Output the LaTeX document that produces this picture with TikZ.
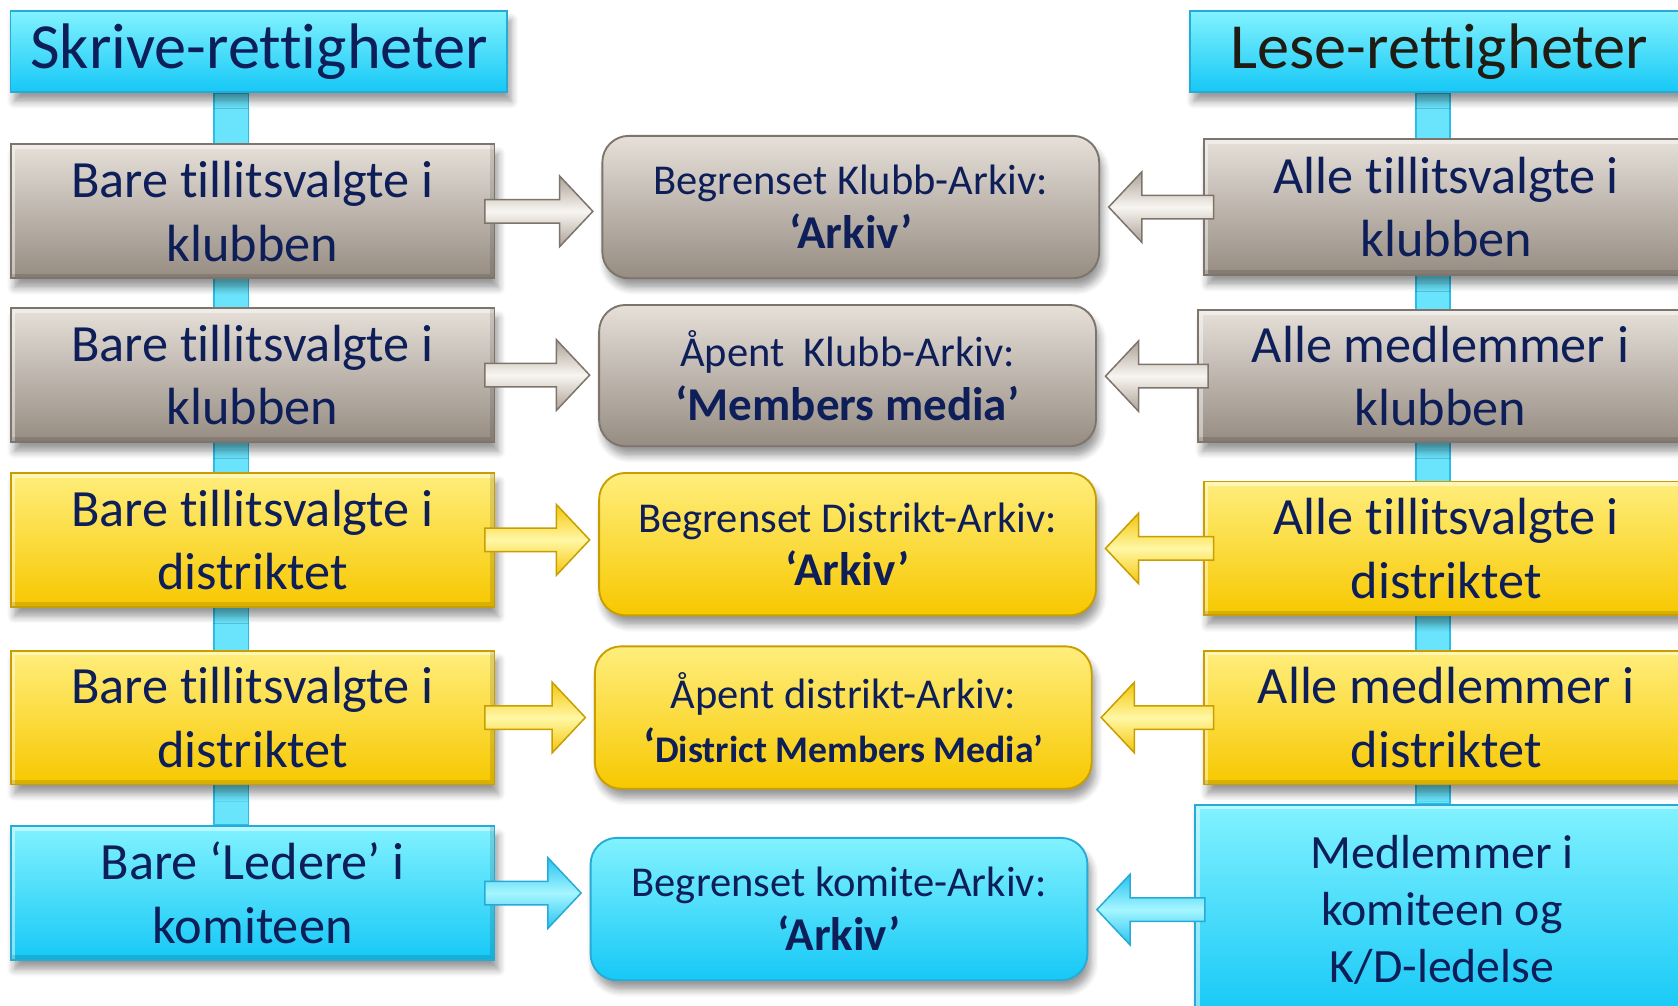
\documentclass[tikz,border=0pt]{standalone}
\usepackage{fontspec}
\setmainfont{Carlito}[Ligatures=NoCommon]
\usetikzlibrary{calc,backgrounds,shadows.blur}

\definecolor{navy}{RGB}{14,30,88}
\definecolor{inkdark}{RGB}{32,28,20}
\definecolor{graytop}{RGB}{230,224,217}
\definecolor{graybot}{RGB}{150,140,130}
\definecolor{grayedge}{RGB}{125,116,108}
\definecolor{graylight}{RGB}{248,245,240}
\definecolor{grayarr}{RGB}{172,162,152}
\definecolor{yeltop}{RGB}{255,238,125}
\definecolor{yelbot}{RGB}{247,200,0}
\definecolor{yeledge}{RGB}{200,158,0}
\definecolor{yellight}{RGB}{255,247,165}
\definecolor{yelarr}{RGB}{244,198,10}
\definecolor{cyantop}{RGB}{130,242,255}
\definecolor{cyanbot}{RGB}{22,200,246}
\definecolor{cyanedge}{RGB}{40,170,215}
\definecolor{cyanlight}{RGB}{165,246,255}
\definecolor{cyanarr}{RGB}{40,195,240}
\definecolor{barfill}{RGB}{105,228,252}
\definecolor{baredge}{RGB}{40,190,230}

\newcommand\boldline[1]{{\fontsize{12.5}{15}\selectfont\bfseries #1}}

% block arrow: style, tail anchor, target anchor, direction (1 = right, -1 = left)
\newcommand\blockarrow[4]{%
  \coordinate (tail) at ($(#2)+({-(#4)*10},0)$);
  \coordinate (tip) at ($(#3 |- #2)+({-(#4)*8},0)$);
  \path[#1] ($(tail)+(0,-11)$) -- ($(tip)+({-(#4)*31},-11)$) -- ($(tip)+({-(#4)*31},-33)$)
    -- (tip) -- ($(tip)+({-(#4)*31},33)$) -- ($(tip)+({-(#4)*31},11)$) -- ($(tail)+(0,11)$) -- cycle;}

\tikzset{
  softshadow/.style={blur shadow={shadow xshift=1pt, shadow yshift=-2.5pt, shadow opacity=40, shadow blur steps=6}},
  bevel/.style={path picture={
      \draw[white, opacity=.45, line width=2.5pt] (path picture bounding box.south west)
        -- (path picture bounding box.north west) -- (path picture bounding box.north east);
      \draw[black, opacity=.12, line width=2.5pt] (path picture bounding box.north east)
        -- (path picture bounding box.south east) -- (path picture bounding box.south west);}},
  sidebox/.style={draw=#1edge, line width=.5pt, top color=#1top, bottom color=#1bot,
    text=navy, align=center, inner sep=0pt, minimum width=4.52cm, minimum height=1.25cm,
    font=\fontsize{13.9}{16.9}\selectfont, softshadow, bevel},
  archive/.style={draw=#1edge, line width=.5pt, rounded corners=7pt, top color=#1top,
    bottom color=#1bot, text=navy, align=center, inner sep=0pt, minimum width=4.64cm,
    minimum height=1.33cm, font=\fontsize{11.3}{14.3}\selectfont, softshadow},
  header/.style={draw=cyanedge, line width=.5pt, top color=cyantop, bottom color=cyanbot,
    inner sep=0pt, minimum height=0.76cm, font=\fontsize{17.1}{20}\selectfont, softshadow},
  flow/.style={draw=#1edge, line width=.4pt, top color=#1arr, bottom color=#1arr,
    middle color=#1light},
  bar/.style={fill=barfill, draw=baredge, line width=.4pt}
}

\begin{document}
\begin{tikzpicture}[x=0.01cm, y=-0.01cm]
		%%%%% START %%%%%
		\useasboundingbox (0,0) rectangle (1568,940);
		\clip (0,0) rectangle (1568,940);
		
		% headers
		\node[header, minimum width=4.64cm, text=navy] (hl) at (242,48) {Skrive-rettigheter};
		\node[header, minimum width=4.66cm, text=inkdark] (hr) at (1345,48) {Lese-rettigheter};
		
		% who may write
		\node[sidebox=gray] (l1) at (236,197.5) {Bare tillitsvalgte i\\klubben};
		\node[sidebox=gray] (l2) at (236,350.5) {Bare tillitsvalgte i\\klubben};
		\node[sidebox=yel] (l3) at (236,504.5) {Bare tillitsvalgte i\\distriktet};
		\node[sidebox=yel] (l4) at (236,670.5) {Bare tillitsvalgte i\\distriktet};
		\node[sidebox=cyan] (l5) at (236,834.5) {Bare ‘Ledere’ i\\komiteen};
		
		% archives
		\node[archive=gray] (m1) at (795,193.5) {Begrenset Klubb-Arkiv:\\\boldline{‘Arkiv’}};
		\node[archive=gray, minimum height=1.32cm] (m2) at (792,351) {Åpent\ \ Klubb-Arkiv:\\\boldline{‘Members media’}};
		\node[archive=yel] (m3) at (792,508.5) {Begrenset Distrikt-Arkiv:\\\boldline{‘Arkiv’}};
		\node[archive=yel] (m4) at (788,670.5) {Åpent distrikt-Arkiv:\\\boldline{‘{\fontsize{10}{12}\selectfont District Members Media’}}};
		\node[archive=cyan] (m5) at (784,849.5) {Begrenset komite-Arkiv:\\\boldline{‘Arkiv’}};
		
		% who may read
		\node[sidebox=gray, minimum width=4.53cm, minimum height=1.27cm] (r1) at (1351.5,193.5) {Alle tillitsvalgte i\\klubben};
		\node[sidebox=gray, minimum height=1.23cm] (r2) at (1346,351.5) {Alle medlemmer i\\klubben};
		\node[sidebox=yel, minimum width=4.53cm] (r3) at (1351.5,512.5) {Alle tillitsvalgte i\\distriktet};
		\node[sidebox=yel, minimum width=4.53cm] (r4) at (1351.5,670.5) {Alle medlemmer i\\distriktet};
		\node[sidebox=cyan, minimum width=4.61cm, minimum height=1.96cm, font=\fontsize{12.7}{15.2}\selectfont] (r5) at (1347.5,850) {Medlemmer i\\komiteen og\\K/D-ledelse};
		
		% vertical bars
		\coordinate (barl) at (216,0);
		\coordinate (barr) at (1339,0);
		\begin{scope}[on background layer]
			\draw[bar] ($(barl |- hl.south)+(-16,0)$) rectangle ($(barl |- l5.north)+(16,0)$);
			\draw[bar] ($(barr |- hr.south)+(-16,0)$) rectangle ($(barr |- r5.north)+(16,0)$);
		\end{scope}
		
		% write arrows
		\blockarrow{flow=gray}{l1.east}{m1.west}{1}
		\blockarrow{flow=gray}{l2.east}{m2.west}{1}
		\blockarrow{flow=yel}{l3.east}{m3.west}{1}
		\blockarrow{flow=yel}{l4.east}{m4.west}{1}
		\blockarrow{flow=cyan}{l5.east}{m5.west}{1}
		
		% read arrows
		\blockarrow{flow=gray}{r1.west}{m1.east}{-1}
		\blockarrow{flow=gray}{r2.west}{m2.east}{-1}
		\blockarrow{flow=yel}{r3.west}{m3.east}{-1}
		\blockarrow{flow=yel}{r4.west}{m4.east}{-1}
		\blockarrow{flow=cyan}{r5.west}{m5.east}{-1}
		
		%%%%% END %%%%%
\end{tikzpicture}
\end{document}
